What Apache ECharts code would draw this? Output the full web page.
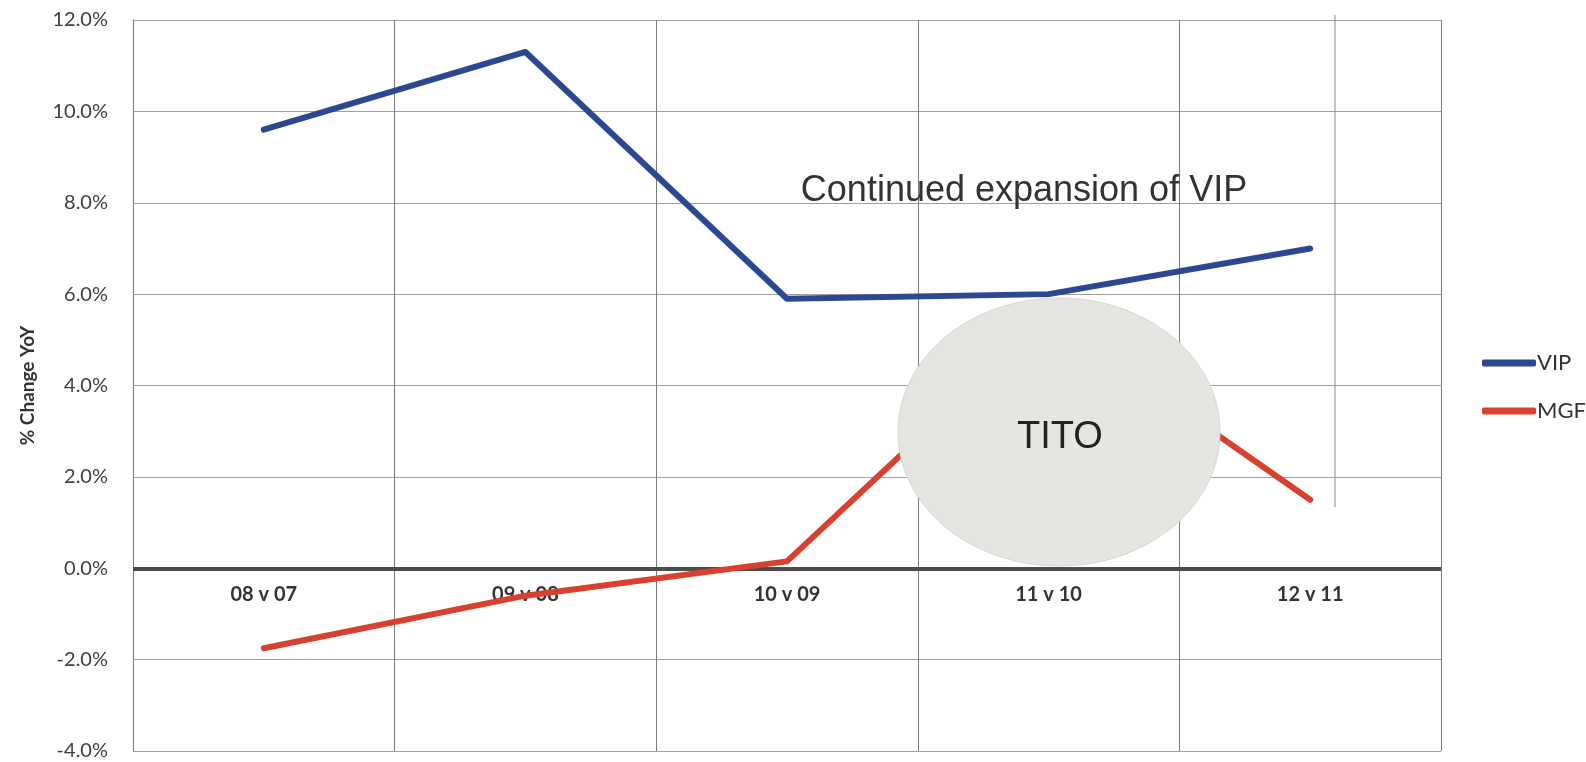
<!DOCTYPE html>
<html>
<head>
<meta charset="utf-8">
<title>% Change YoY — VIP vs MGF</title>
<script src="https://cdn.jsdelivr.net/npm/echarts@6/dist/echarts.min.js"></script>
<style>
  html, body { margin: 0; padding: 0; background: #ffffff; }
  #chart { width: 1586px; height: 762px; }
</style>
</head>
<body>
<div id="chart"></div>
<script>
// Year-over-year comparison periods
const periods = ['08 v 07', '09 v 08', '10 v 09', '11 v 10', '12 v 11'];

// % change year over year
const vipChange = [9.6, 11.3, 5.9, 6.0, 7.0];
const mgfChange = [-1.75, -0.6, 0.15, 5.5, 1.5];

// Value axis ticks (percent)
const yMin = -4;
const yMax = 12;
const yStep = 2;

const annotationText = 'Continued expansion of VIP';
const calloutText = 'TITO';

const chart = echarts.init(document.getElementById('chart'), null, { renderer: 'canvas' });

const labelFont = 'Lato, "Open Sans", "Liberation Sans", sans-serif';

chart.setOption({
  animation: false,
  backgroundColor: '#ffffff',
  grid: { left: 133, right: 145, top: 20, bottom: 11, containLabel: false, outerBoundsMode: 'none' },
  legend: {
    orient: 'vertical',
    left: 1477,
    top: 347,
    itemWidth: 54,
    itemHeight: 7,
    itemGap: 26,
    icon: 'roundRect',
    textStyle: { fontFamily: labelFont, fontSize: 22, color: '#333333', padding: [0, 0, 0, -4] },
    data: ['VIP', 'MGF']
  },
  xAxis: {
    type: 'category',
    data: periods,
    boundaryGap: true,
    axisLine: { show: false, onZero: false },
    axisTick: { show: false },
    // period labels sit just under the zero line
    axisLabel: {
      margin: -166,
      fontFamily: labelFont,
      fontWeight: 'bold',
      fontSize: 20,
      color: '#333333'
    },
    splitLine: { show: true, interval: 0, lineStyle: { color: '#7a7a7a', width: 1 } }
  },
  yAxis: {
    type: 'value',
    min: yMin,
    max: yMax,
    interval: yStep,
    name: '% Change YoY',
    nameLocation: 'middle',
    nameGap: 96,
    nameRotate: 90,
    nameTextStyle: { fontFamily: labelFont, fontWeight: 'bold', fontSize: 19, color: '#333333' },
    axisLine: { show: true, lineStyle: { color: '#7a7a7a', width: 1 } },
    axisTick: { show: false },
    axisLabel: {
      margin: 25,
      fontFamily: labelFont,
      fontSize: 20,
      color: '#404040',
      formatter: v => v.toFixed(1) + '%'
    },
    splitLine: { show: true, lineStyle: { color: '#a0a0a0', width: 1 } }
  },
  series: [
    {
      name: 'VIP',
      type: 'line',
      data: vipChange,
      showSymbol: false,
      symbol: 'none',
      color: '#2d4892',
      lineStyle: { width: 6, color: '#2d4892', cap: 'round', join: 'round' },
      z: 3,
      // heavy zero reference line
      markLine: {
        silent: true,
        symbol: ['none', 'none'],
        label: { show: false },
        lineStyle: { color: '#4d4d4d', width: 4, type: 'solid' },
        data: [{ yAxis: 0 }],
        z: 2
      }
    },
    {
      name: 'MGF',
      type: 'line',
      data: mgfChange,
      showSymbol: false,
      symbol: 'none',
      color: '#d8412f',
      lineStyle: { width: 6, color: '#d8412f', cap: 'round', join: 'round' },
      z: 3
    }
  ]
});

// Callout bubble over the 11 v 10 period, annotation text, and the short rule at right
chart.setOption({
  graphic: [
    {
      type: 'line',
      z: 1,
      shape: { x1: 1335, y1: 15, x2: 1335, y2: 507 },
      style: { stroke: '#8a8a8a', lineWidth: 1 }
    },
    {
      type: 'text',
      z: 10,
      style: {
        x: 1024,
        y: 191,
        text: annotationText,
        fontFamily: '"Liberation Sans", Arial, sans-serif',
        fontSize: 36,
        fill: '#333333',
        textAlign: 'center',
        textVerticalAlign: 'middle'
      }
    },
    {
      type: 'ellipse',
      z: 20,
      shape: { cx: 1059, cy: 432, rx: 161, ry: 134 },
      style: { fill: '#e5e6e2', stroke: '#d6d6d2', lineWidth: 1 }
    },
    {
      type: 'text',
      z: 21,
      style: {
        x: 1060,
        y: 438,
        text: calloutText,
        fontFamily: '"Liberation Sans", Arial, sans-serif',
        fontSize: 38,
        fill: '#222222',
        textAlign: 'center',
        textVerticalAlign: 'middle'
      }
    }
  ]
});
</script>
</body>
</html>
